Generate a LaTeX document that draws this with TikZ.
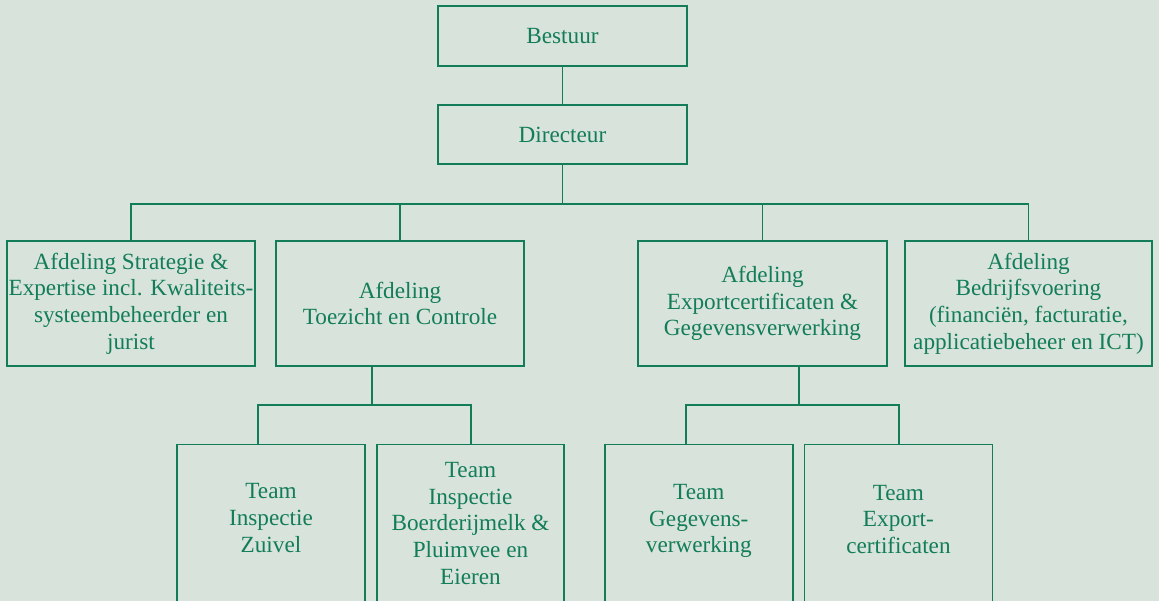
\documentclass[tikz,border=0pt]{standalone}
\usepackage{fontspec}
\setmainfont{Liberation Serif}
\definecolor{bg}{RGB}{216,227,219}
\definecolor{grn}{RGB}{18,125,88}
\begin{document}
\begin{tikzpicture}[x=1pt,y=-1pt,
  box/.style={draw=grn, line width=1.4pt, text=grn, align=center, inner sep=0pt,
    font=\fontsize{23.2}{26.7}\selectfont},
  txt/.style={text=grn, align=center, inner sep=0pt, font=\fontsize{23.2}{26.7}\selectfont},
  conn/.style={draw=grn, line width=1.4pt}]
\useasboundingbox (0,0) rectangle (1159,601);
\fill[bg] (0,0) rectangle (1159,601);
\clip (0,0) rectangle (1159,601);
% top
\node[box, minimum width=249pt, minimum height=60pt] (bestuur) at (562.5,36) {Bestuur};
\node[box, minimum width=249pt, minimum height=59pt] (dir) at (562.5,134.5) {Directeur};
% level 2
\node[box, minimum width=248pt, minimum height=125pt] (b1) at (131,303.5)
  {Afdeling Strategie \&\\Expertise incl. Kwaliteits-\\systeembeheerder en\\jurist};
\node[box, minimum width=248pt, minimum height=125pt] (b2) at (400,303.5)
  {Afdeling\\Toezicht en Controle};
\node[box, minimum width=249pt, minimum height=125pt] (b3) at (762.5,303.5)
  {Afdeling\\Exportcertificaten \&\\Gegevensverwerking};
\node[box, minimum width=247pt, minimum height=125pt] (b4) at (1028.5,303.5)
  {Afdeling\\Bedrijfsvoering\\(financiën, facturatie,\\applicatiebeheer en ICT)};
% level 3 boxes (run past the bottom edge)
\node[box, minimum width=188pt, minimum height=180pt, anchor=north] (ta) at (271,444) {};
\node[box, minimum width=187pt, minimum height=180pt, anchor=north] (tb) at (470.5,444) {};
\node[box, minimum width=188pt, minimum height=180pt, anchor=north] (tc) at (698.8,444) {};
\node[box, minimum width=188pt, minimum height=180pt, anchor=north] (td) at (898.4,444) {};
\node[txt] (tat) at (271,518) {Team\\Inspectie\\Zuivel};
\node[txt] (tbt) at (470.5,523.5) {Team\\Inspectie\\Boerderijmelk \&\\Pluimvee en\\Eieren};
\node[txt] (tct) at (698.8,521) {Team\\Gegevens-\\verwerking};
\node[txt] (tdt) at (898.4,519.5) {Team\\Export-\\certificaten};
% connectors
\coordinate (busY) at (0,204);
\coordinate (lowY) at (0,405);
\draw[conn] (bestuur.south) -- (dir.north);
\draw[conn] (dir.south) -- (dir.south |- busY);
\draw[conn] (b1.north) -- (b1.north |- busY) -- (b4.north |- busY) -- (b4.north);
\draw[conn] (b2.north) -- (b2.north |- busY);
\draw[conn] (b3.north) -- (b3.north |- busY);
\coordinate (b2out) at ([xshift=-28pt]b2.south);
\coordinate (taIn) at ([xshift=-13pt]ta.north);
\coordinate (tbIn) at ([xshift=0.5pt]tb.north);
\draw[conn] (b2out) -- (b2out |- lowY);
\draw[conn] (taIn) -- (taIn |- lowY) -- (tbIn |- lowY) -- (tbIn);
\coordinate (b3out) at ([xshift=36.5pt]b3.south);
\coordinate (tcIn) at ([xshift=-12.8pt]tc.north);
\coordinate (tdIn) at ([xshift=0.6pt]td.north);
\draw[conn] (b3out) -- (b3out |- lowY);
\draw[conn] (tcIn) -- (tcIn |- lowY) -- (tdIn |- lowY) -- (tdIn);
\end{tikzpicture}
\end{document}
